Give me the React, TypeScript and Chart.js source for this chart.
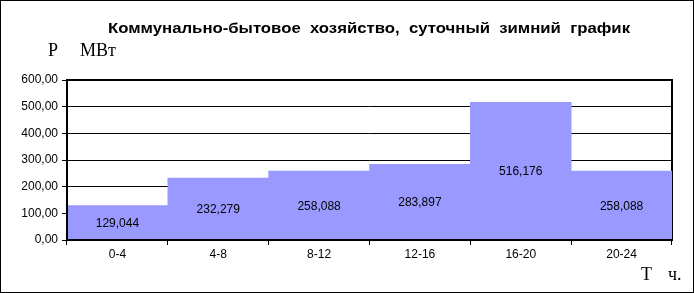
import React, { useEffect, useRef } from "react";
import { Chart, registerables } from "chart.js";

Chart.register(...registerables);

const categories = ["0-4", "4-8", "8-12", "12-16", "16-20", "20-24"];
const powerValues = [129.044, 232.279, 258.088, 283.897, 516.176, 258.088];
const valueLabels = ["129,044", "232,279", "258,088", "283,897", "516,176", "258,088"];
const yMin = 0;
const yMax = 600;
const yStep = 100;
const chartTitle = "Коммунально-бытовое  хозяйство,  суточный  зимний  график";
const yUnitSymbol = "Р";
const yUnitName = "МВт";
const xUnitSymbol = "Т";
const xUnitName = "ч.";

const W = 694;
const H = 293;
const SANS = "Arial, 'Liberation Sans', sans-serif";
const SERIF = "'Times New Roman', 'Liberation Serif', serif";

const decorPlugin = {
  id: "decor",
  beforeDraw(chart: any) {
    const ctx = chart.ctx;
    ctx.save();
    ctx.fillStyle = "#ffffff";
    ctx.fillRect(0, 0, W, H);
    ctx.restore();
  },
  beforeDatasetsDraw(chart: any) {
    const { ctx, chartArea } = chart;
    ctx.save();
    ctx.strokeStyle = "#000";
    ctx.lineWidth = 2;
    ctx.beginPath();
    ctx.moveTo(chartArea.left, chartArea.top);
    ctx.lineTo(chartArea.right, chartArea.top);
    ctx.lineTo(chartArea.right, chartArea.bottom);
    ctx.stroke();
    ctx.restore();
  },
  afterDatasetsDraw(chart: any) {
    const { ctx, chartArea } = chart;
    ctx.save();
    ctx.strokeStyle = "#000";
    ctx.lineWidth = 2;
    ctx.beginPath();
    ctx.moveTo(chartArea.left, chartArea.top - 1);
    ctx.lineTo(chartArea.left, chartArea.bottom);
    ctx.lineTo(chartArea.right + 1, chartArea.bottom);
    ctx.stroke();

    const meta = chart.getDatasetMeta(0);
    const yScale = chart.scales.y;
    ctx.fillStyle = "#000";
    ctx.font = `12px ${SANS}`;
    ctx.textAlign = "center";
    ctx.textBaseline = "middle";
    meta.data.forEach((bar: any, i: number) => {
      const top = yScale.getPixelForValue(powerValues[i]);
      const bottom = yScale.getPixelForValue(0);
      ctx.fillText(valueLabels[i], bar.x, (top + bottom) / 2 + 1);
    });
    ctx.restore();
  },
  afterDraw(chart: any) {
    const ctx = chart.ctx;
    ctx.save();
    ctx.fillStyle = "#000";
    ctx.textBaseline = "alphabetic";
    ctx.textAlign = "center";
    ctx.font = `bold 14.5px ${SANS}`;
    const tw = ctx.measureText(chartTitle).width;
    const sx = 522 / tw;
    ctx.save();
    ctx.translate(369, 33);
    ctx.scale(sx, 1);
    ctx.fillText(chartTitle, 0, 0);
    ctx.restore();

    ctx.textAlign = "left";
    ctx.font = `18px ${SERIF}`;
    ctx.fillText(yUnitSymbol, 48, 56);
    ctx.fillText(yUnitName, 80, 56);
    ctx.fillText(xUnitSymbol, 641, 280);
    ctx.fillText(xUnitName, 668, 280);

    ctx.strokeStyle = "#000";
    ctx.lineWidth = 1;
    ctx.strokeRect(0.5, 0.5, W - 1, H - 1);
    ctx.restore();
  },
};

export default function App() {
  const ref = useRef<HTMLCanvasElement | null>(null);

  useEffect(() => {
    document.body.style.margin = "0";
    const canvas = ref.current;
    if (!canvas) return;
    const chart = new Chart(canvas, {
      type: "bar",
      data: {
        labels: categories,
        datasets: [
          {
            data: powerValues,
            backgroundColor: "#9999ff",
            borderWidth: 0,
            barPercentage: 1,
            categoryPercentage: 1,
          },
        ],
      },
      options: {
        responsive: false,
        animation: false,
        devicePixelRatio: 1,
        layout: { padding: { left: 0, top: 80, right: 22, bottom: 0 } },
        plugins: {
          legend: { display: false },
          title: { display: false },
          tooltip: { enabled: false },
        },
        scales: {
          x: {
            offset: true,
            grid: {
              display: true,
              offset: true,
              drawOnChartArea: false,
              drawTicks: true,
              tickLength: 5,
              color: "#000",
              lineWidth: 1,
            },
            border: { display: false },
            ticks: {
              color: "#000",
              font: { family: SANS, size: 12 },
              padding: 2,
              maxRotation: 0,
              autoSkip: false,
            },
            afterFit(scale: any) {
              scale.height = 53;
            },
          },
          y: {
            min: yMin,
            max: yMax,
            grid: {
              color: "#000",
              lineWidth: 1,
              drawTicks: true,
              tickLength: 5,
            },
            border: { display: false },
            ticks: {
              stepSize: yStep,
              color: "#000",
              font: { family: SANS, size: 12 },
              padding: 4,
              callback: (v: any) => Number(v).toFixed(2).replace(".", ","),
            },
            afterFit(scale: any) {
              scale.width = 67;
            },
          },
        },
      },
      plugins: [decorPlugin],
    });
    return () => chart.destroy();
  }, []);

  return (
    <div style={{ position: "absolute", left: 0, top: 0 }}>
      <canvas ref={ref} width={W} height={H} style={{ width: W, height: H, display: "block" }} />
    </div>
  );
}
